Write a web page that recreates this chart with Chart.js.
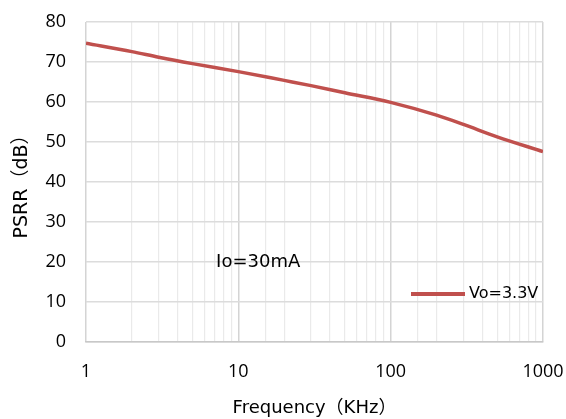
<!DOCTYPE html>
<html>
<head>
<meta charset="utf-8">
<script src="https://cdn.jsdelivr.net/npm/chart.js@4"></script>
<style>
  html, body { margin: 0; padding: 0; background: #fff; }
  #wrap { width: 566px; height: 419px; }
</style>
</head>
<body>
<div id="wrap"><canvas id="psrrChart"></canvas></div>
<script>
// ===== DATA ===== //
const freqKHz = [1, 2, 3, 5, 10, 20, 30, 50, 100, 200, 300, 500, 1000];
const psrrDb = [74.7, 72.6, 71.2, 69.6, 67.6, 65.4, 64.1, 62.3, 59.9, 56.7, 54.4, 51.3, 47.6];
const yTicks = [0, 10, 20, 30, 40, 50, 60, 70, 80];
const xMajor = [1, 10, 100, 1000];
const seriesLabel = 'Vo=3.3V';
const noteText = 'Io=30mA';
const notePos = { x: 13.5, y: 20 };

const lineColor = '#c0504d';
const tickFont = '"Open Sans", "Noto Sans", sans-serif';
const textFont = '"DejaVu Sans", "Noto Sans CJK SC", sans-serif';

// legend + note drawn inside the plot
const insideLabels = {
    id: 'insideLabels',
    afterDatasetsDraw(chart) {
        const { ctx, chartArea, scales } = chart;
        ctx.save();
        // note
        ctx.fillStyle = '#000';
        ctx.font = '18px ' + textFont;
        ctx.textAlign = 'center';
        ctx.textBaseline = 'middle';
        ctx.fillText(noteText, scales.x.getPixelForValue(notePos.x), scales.y.getPixelForValue(notePos.y));
        // legend
        const ly = chartArea.bottom - 48;
        const lx = chartArea.right - 132;
        ctx.strokeStyle = lineColor;
        ctx.lineWidth = 4;
        ctx.beginPath();
        ctx.moveTo(lx, ly);
        ctx.lineTo(lx + 54, ly);
        ctx.stroke();
        ctx.font = '16px ' + textFont;
        ctx.textAlign = 'left';
        ctx.fillText(seriesLabel, lx + 58, ly);
        ctx.restore();
    }
};

// ===== CHART ===== //
const ctx = document.getElementById('psrrChart').getContext('2d');
new Chart(ctx, {
    type: 'line',
    data: {
        datasets: [{
            label: seriesLabel,
            data: freqKHz.map((f, i) => ({ x: f, y: psrrDb[i] })),
            borderColor: lineColor,
            borderWidth: 3.5,
            pointRadius: 0,
            cubicInterpolationMode: 'monotone',
            fill: false
        }]
    },
    options: {
        responsive: true,
        maintainAspectRatio: false,
        animation: false,
        layout: { padding: { top: 22, right: 23, left: 11, bottom: 0 } },
        plugins: {
            legend: { display: false },
            tooltip: { enabled: false }
        },
        scales: {
            x: {
                type: 'logarithmic',
                min: 1,
                max: 1000,
                afterFit(scale) {
                    scale.height = 77;
                    scale.paddingLeft = 0;
                    scale.paddingRight = 0;
                },
                grid: {
                    color: c => xMajor.includes(c.tick && c.tick.value) ? '#d4d4d4' : '#eaeaea',
                    lineWidth: c => xMajor.includes(c.tick && c.tick.value) ? 1.5 : 1.2,
                    drawTicks: false
                },
                border: { color: '#c8c8c8', width: 1.5 },
                ticks: {
                    autoSkip: false,
                    maxRotation: 0,
                    padding: 19,
                    color: '#000',
                    font: { family: tickFont, size: 18 },
                    callback: v => xMajor.includes(v) ? String(v) : ''
                },
                title: {
                    display: true,
                    text: 'Frequency（KHz）',
                    color: '#000',
                    font: { family: textFont, size: 18 },
                    padding: { top: 6, bottom: 0 }
                }
            },
            y: {
                min: 0,
                max: 80,
                afterFit(scale) {
                    scale.width = 75;
                    scale.paddingTop = 0;
                    scale.paddingBottom = 0;
                },
                afterBuildTicks(scale) { scale.ticks = yTicks.map(v => ({ value: v })); },
                grid: { color: '#dcdcdc', lineWidth: 1.5, drawTicks: false },
                border: { display: false },
                ticks: {
                    padding: 20,
                    color: '#000',
                    font: { family: tickFont, size: 18 }
                },
                title: {
                    display: true,
                    text: 'PSRR（dB）',
                    color: '#000',
                    font: { family: textFont, size: 19 },
                    padding: { top: 0, bottom: 2 }
                }
            }
        }
    },
    plugins: [insideLabels]
});
</script>
</body>
</html>
